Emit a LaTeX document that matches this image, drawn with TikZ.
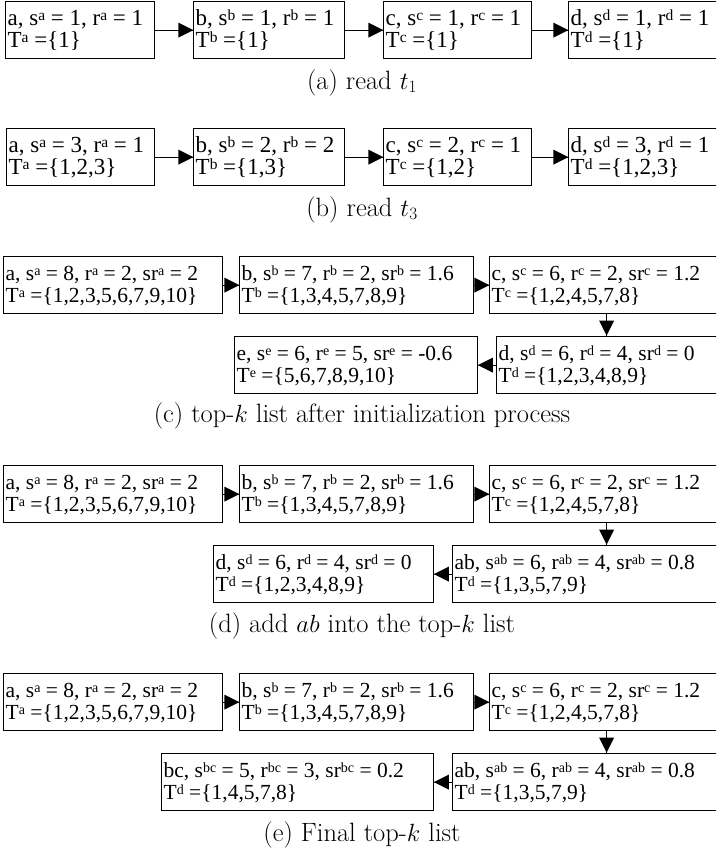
\documentclass[tikz,border=0pt]{standalone}
\usepackage{fontspec}
\newfontfamily\tnr{Liberation Serif}
\def\supsz{15}
\newcommand\mysup[1]{\raisebox{0.21em}{\fontsize{\supsz}{\supsz}\selectfont #1}}
\tikzset{
  boxst/.style={draw, line width=1.2pt, minimum height=57pt, inner sep=0pt, anchor=north west},
  lnA/.style={anchor=base west, inner sep=0pt, font={\def\supsz{15.5}\tnr\fontsize{23}{22}\selectfont}},
  lnC/.style={anchor=base west, inner sep=0pt, font={\def\supsz{14}\tnr\fontsize{21.5}{22}\selectfont}},
  capst/.style={font=\fontsize{26.5}{30}\selectfont, anchor=base, inner sep=0pt},
  link/.style={line width=1.2pt},
  tipst/.style={fill=black}
}
% name, x, y, width, line1, line2, text style
\newcommand\bx[7]{%
  \node[boxst, minimum width=#4pt] (#1) at (#2,#3) {};
  \node[#7] (#1-l1) at ([xshift=2.5pt,yshift=-24pt]#1.north west) {#5};
  \node[#7] (#1-l2) at ([xshift=2.5pt,yshift=-46pt]#1.north west) {#6};
}
% arrows: right, left, down
\newcommand\arrR[2]{%
  \draw[link] (#1.east) -- (#2.west);
  \fill[tipst] ([xshift=0.4pt]#2.west) -- ++(-15pt,7.5pt) -- ++(0pt,-15pt) -- cycle;}
\newcommand\arrL[2]{%
  \draw[link] (#1.west) -- (#2.east);
  \fill[tipst] ([xshift=-0.4pt]#2.east) -- ++(15pt,7.5pt) -- ++(0pt,-15pt) -- cycle;}
\newcommand\arrD[2]{%
  \coordinate (#1to#2) at (#1.south |- #2.north);
  \draw[link] (#1.south) -- (#1to#2);
  \fill[tipst] ([yshift=0.4pt]#1to#2) -- ++(-7.5pt,15pt) -- ++(15pt,0pt) -- cycle;}
\begin{document}
\begin{tikzpicture}[x=1pt,y=-1pt]
\useasboundingbox (0,0) rectangle (716,855);
\clip (0,0) rectangle (716,855);
% (a)
\bx{a1}{5}{1}{149}{a, s\mysup{a} = 1, r\mysup{a} = 1}{T\mysup{a} =\{1\}}{lnA}
\bx{a2}{193}{1}{151}{b, s\mysup{b} = 1, r\mysup{b} = 1}{T\mysup{b} =\{1\}}{lnA}
\bx{a3}{383}{1}{148}{c, s\mysup{c} = 1, r\mysup{c} = 1}{T\mysup{c} =\{1\}}{lnA}
\bx{a4}{568}{1}{160}{d, s\mysup{d} = 1, r\mysup{d} = 1}{T\mysup{d} =\{1\}}{lnA}
\arrR{a1}{a2}
\arrR{a2}{a3}
\arrR{a3}{a4}
\node[capst] (capa) at (362,89) {(a) read $t_1$};
% (b)
\bx{b1}{6}{128}{148}{a, s\mysup{a} = 3, r\mysup{a} = 1}{T\mysup{a} =\{1,2,3\}}{lnA}
\bx{b2}{193}{128}{151}{b, s\mysup{b} = 2, r\mysup{b} = 2}{T\mysup{b} =\{1,3\}}{lnA}
\bx{b3}{383}{128}{148}{c, s\mysup{c} = 2, r\mysup{c} = 1}{T\mysup{c} =\{1,2\}}{lnA}
\bx{b4}{568}{128}{160}{d, s\mysup{d} = 3, r\mysup{d} = 1}{T\mysup{d} =\{1,2,3\}}{lnA}
\arrR{b1}{b2}
\arrR{b2}{b3}
\arrR{b3}{b4}
\node[capst] (capb) at (362,216) {(b) read $t_3$};
% (c)
\bx{c1}{3}{256}{219}{a, s\mysup{a} = 8, r\mysup{a} = 2, sr\mysup{a} = 2}{T\mysup{a} =\{1,2,3,5,6,7,9,10\}}{lnC}
\bx{c2}{239}{256}{234}{b, s\mysup{b} = 7, r\mysup{b} = 2, sr\mysup{b} = 1.6}{T\mysup{b} =\{1,3,4,5,7,8,9\}}{lnC}
\bx{c3}{489}{256}{234}{c, s\mysup{c} = 6, r\mysup{c} = 2, sr\mysup{c} = 1.2}{T\mysup{c} =\{1,2,4,5,7,8\}}{lnC}
\bx{c4}{496}{336}{240}{d, s\mysup{d} = 6, r\mysup{d} = 4, sr\mysup{d} = 0}{T\mysup{d} =\{1,2,3,4,8,9\}}{lnC}
\bx{c5}{234}{336}{243}{e, s\mysup{e} = 6, r\mysup{e} = 5, sr\mysup{e} = -0.6}{T\mysup{e} =\{5,6,7,8,9,10\}}{lnC}
\arrR{c1}{c2}
\arrR{c2}{c3}
\arrD{c3}{c4}
\arrL{c4}{c5}
\node[capst] (capc) at (362,422) {(c) top-$k$ list after initialization process};
% (d)
\bx{d1}{3}{465}{219}{a, s\mysup{a} = 8, r\mysup{a} = 2, sr\mysup{a} = 2}{T\mysup{a} =\{1,2,3,5,6,7,9,10\}}{lnC}
\bx{d2}{239}{465}{234}{b, s\mysup{b} = 7, r\mysup{b} = 2, sr\mysup{b} = 1.6}{T\mysup{b} =\{1,3,4,5,7,8,9\}}{lnC}
\bx{d3}{489}{465}{234}{c, s\mysup{c} = 6, r\mysup{c} = 2, sr\mysup{c} = 1.2}{T\mysup{c} =\{1,2,4,5,7,8\}}{lnC}
\bx{d4}{452}{545}{280}{ab, s\mysup{ab} = 6, r\mysup{ab} = 4, sr\mysup{ab} = 0.8}{T\mysup{d} =\{1,3,5,7,9\}}{lnC}
\bx{d5}{213}{545}{220}{d, s\mysup{d} = 6, r\mysup{d} = 4, sr\mysup{d} = 0}{T\mysup{d} =\{1,2,3,4,8,9\}}{lnC}
\arrR{d1}{d2}
\arrR{d2}{d3}
\arrD{d3}{d4}
\arrL{d4}{d5}
\node[capst] (capd) at (362,632) {(d) add $ab$ into the top-$k$ list};
% (e)
\bx{e1}{3}{673}{219}{a, s\mysup{a} = 8, r\mysup{a} = 2, sr\mysup{a} = 2}{T\mysup{a} =\{1,2,3,5,6,7,9,10\}}{lnC}
\bx{e2}{239}{673}{234}{b, s\mysup{b} = 7, r\mysup{b} = 2, sr\mysup{b} = 1.6}{T\mysup{b} =\{1,3,4,5,7,8,9\}}{lnC}
\bx{e3}{489}{673}{234}{c, s\mysup{c} = 6, r\mysup{c} = 2, sr\mysup{c} = 1.2}{T\mysup{c} =\{1,2,4,5,7,8\}}{lnC}
\bx{e4}{452}{753}{280}{ab, s\mysup{ab} = 6, r\mysup{ab} = 4, sr\mysup{ab} = 0.8}{T\mysup{d} =\{1,3,5,7,9\}}{lnC}
\bx{e5}{161}{753}{272}{bc, s\mysup{bc} = 5, r\mysup{bc} = 3, sr\mysup{bc} = 0.2}{T\mysup{d} =\{1,4,5,7,8\}}{lnC}
\arrR{e1}{e2}
\arrR{e2}{e3}
\arrD{e3}{e4}
\arrL{e4}{e5}
\node[capst] (cape) at (362,841) {(e) Final top-$k$ list};
\end{tikzpicture}
\end{document}
